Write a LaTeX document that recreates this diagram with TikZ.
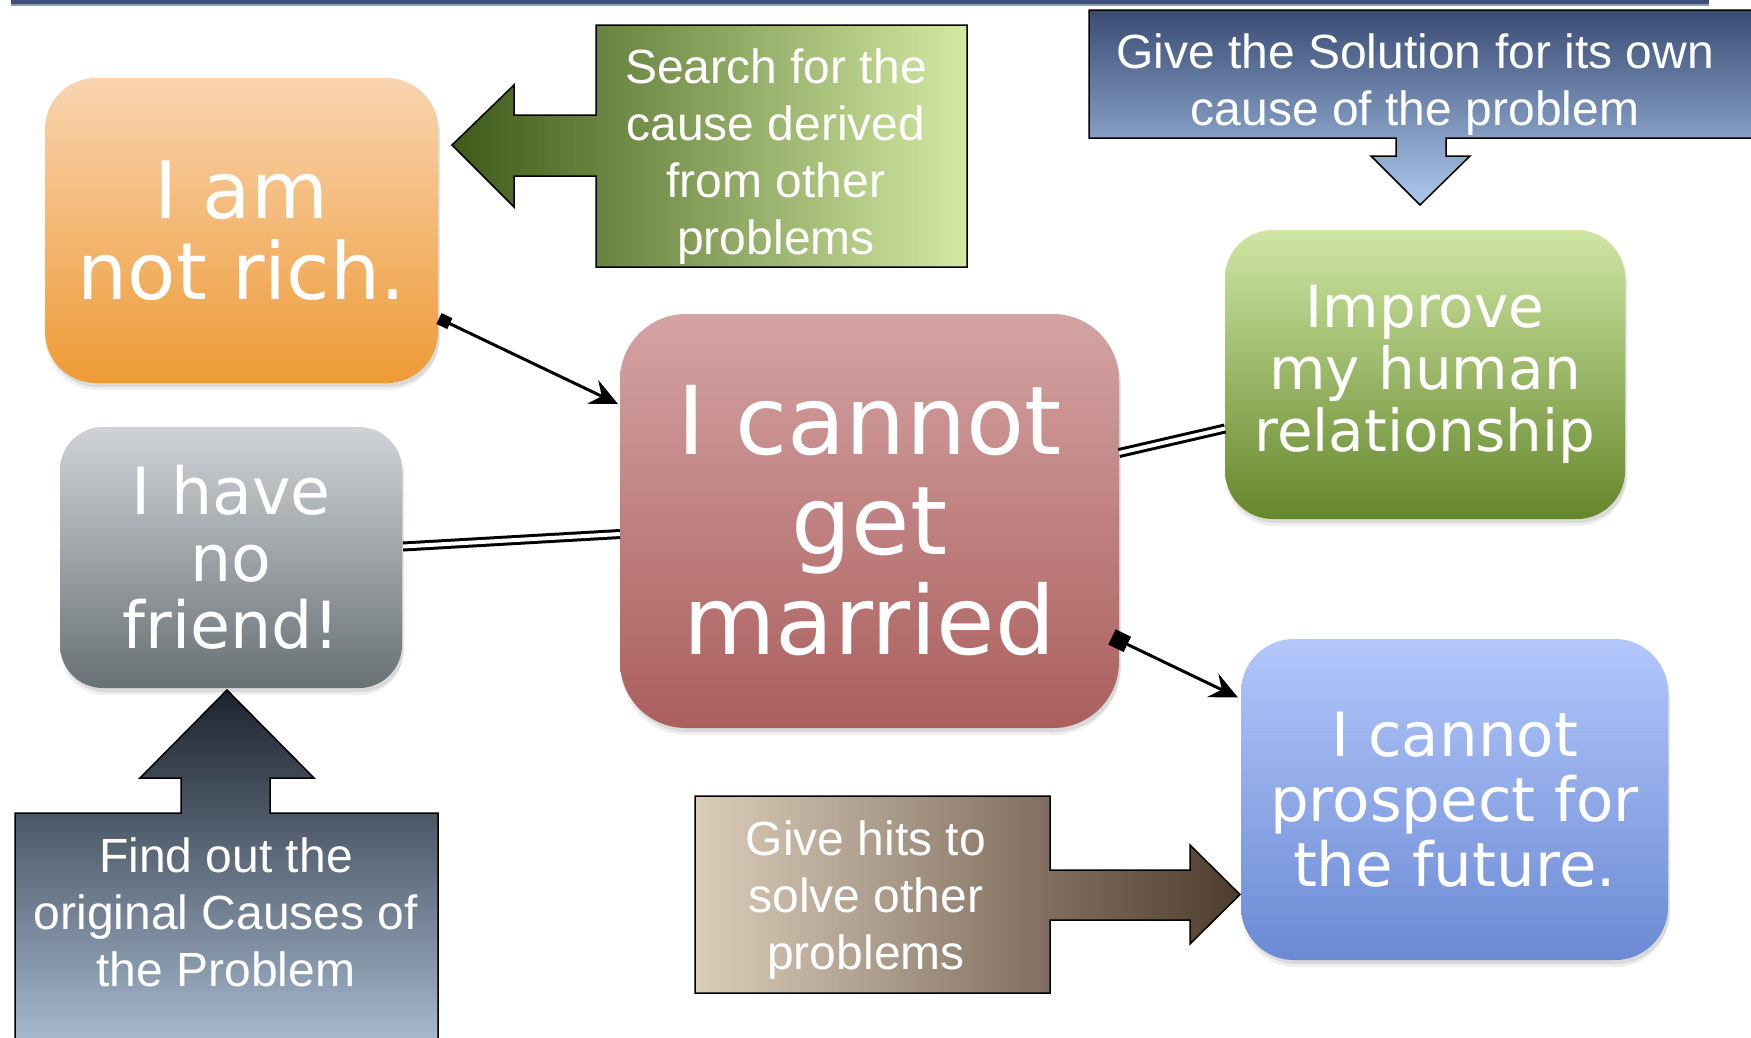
\documentclass[tikz,border=0pt]{standalone}
\usepackage{fontspec}
\setmainfont{DejaVu Sans}
\newfontfamily\calloutfont{Liberation Sans}
\usetikzlibrary{arrows.meta,shadows,calc}
\definecolor{orTop}{HTML}{F8D4B0}
\definecolor{orBot}{HTML}{EE9B36}
\definecolor{grTop}{HTML}{D0D3D6}
\definecolor{grBot}{HTML}{697175}
\definecolor{rdTop}{HTML}{D4A3A3}
\definecolor{rdMid}{HTML}{B36D6B}
\definecolor{rdBot}{HTML}{AA5F5D}
\definecolor{gnTop}{HTML}{CFE6A4}
\definecolor{gnBot}{HTML}{65872B}
\definecolor{blTop}{HTML}{B3C7FB}
\definecolor{blBot}{HTML}{6B8AD4}
\definecolor{c1L}{HTML}{3E5A18}
\definecolor{c1R}{HTML}{D3EAA3}
\definecolor{c2T}{HTML}{3B4C74}
\definecolor{c2B}{HTML}{ACC9EC}
\definecolor{c3T}{HTML}{1B232D}
\definecolor{c3B}{HTML}{A9BCD2}
\definecolor{c4L}{HTML}{DCCDBB}
\definecolor{c4R}{HTML}{4E3C2C}
\definecolor{topline}{HTML}{3F5078}
\definecolor{toplineb}{HTML}{8D9AB8}
\begin{document}
\begin{tikzpicture}[x=1pt,y=-1pt,
  probbox/.style={rectangle, draw=none, inner sep=0pt, outer sep=0pt, align=center, text=white,
    drop shadow={opacity=0.12, shadow xshift=1pt, shadow yshift=-7pt},
    drop shadow={opacity=0.18, shadow xshift=2pt, shadow yshift=-4pt}},
  callout/.style={draw=black, line width=1.5pt, line join=miter},
  callouttext/.style={text=white, align=center, inner sep=0pt,
    font={\calloutfont\fontsize{48}{57}\selectfont}},
  conn/.style={draw=black, line width=3pt},
  dbl/.style={draw=black, line width=3pt, double=white, double distance=4pt}
]
\useasboundingbox (0,0) rectangle (1751,1037);
\fill[white] (0,0) rectangle (1751,1037);
% top rule
\fill[topline] (11,0) rectangle (1709,4);
\fill[toplineb] (11,4) rectangle (1709,5.5);

% problem boxes
\node[probbox, rounded corners=51pt, minimum width=393pt, minimum height=305pt,
  top color=orTop, bottom color=orBot, font=\fontsize{79}{81}\selectfont]
  (rich) at (241.5,230.5) {I am\\not rich.};
\node[probbox, rounded corners=43pt, minimum width=342pt, minimum height=261pt,
  top color=grTop, bottom color=grBot, font=\fontsize{65}{67}\selectfont]
  (friend) at (231,557.5) {I have\\no\\friend!};
\node[probbox, rounded corners=66pt, minimum width=499pt, minimum height=414pt,
  top color=rdTop, middle color=rdMid, bottom color=rdBot, font=\fontsize{95}{100}\selectfont]
  (married) at (869.5,521) {I cannot\\get\\married};
\node[probbox, rounded corners=48pt, minimum width=400pt, minimum height=289pt,
  top color=gnTop, bottom color=gnBot, font=\fontsize{58}{62}\selectfont]
  (improve) at (1425,374.5) {Improve\\my human\\relationship};
\node[probbox, rounded corners=53pt, minimum width=427pt, minimum height=321pt,
  top color=blTop, bottom color=blBot, font=\fontsize{61}{65}\selectfont]
  (future) at (1454.5,799.5) {I cannot\\prospect for\\the future.};

% callout arrows
\shade[callout, left color=c1L, right color=c1R]
  (596,25) -- (967,25) -- (967,267) -- (596,267) -- (596,176) -- (514,176) -- (514,207)
  -- (452,145) -- (514,85) -- (514,115) -- (596,115) -- cycle;
\node[callouttext] (searchtxt) at (776,157) {Search for the\\cause derived\\from other\\problems};

\shade[callout, top color=c2T, bottom color=c2B]
  (1089,10) -- (1765,10) -- (1765,138) -- (1446,138) -- (1446,156) -- (1470,156)
  -- (1420,205) -- (1371,156) -- (1396,156) -- (1396,138) -- (1089,138) -- cycle;
\node[callouttext] (solutiontxt) at (1415,85) {Give the Solution for its own\\cause of the problem};

\shade[callout, top color=c3T, bottom color=c3B]
  (15,1050) -- (15,813) -- (181,813) -- (181,778) -- (140,778) -- (227,690) -- (314,778)
  -- (270,778) -- (270,813) -- (438,813) -- (438,1050) -- cycle;
\node[callouttext] (findtxt) at (226,912) {Find out the\\original Causes of\\the Problem};

\shade[callout, left color=c4L, right color=c4R]
  (695,796) -- (1050,796) -- (1050,870) -- (1190,870) -- (1190,845) -- (1240,894.5)
  -- (1190,944) -- (1190,920) -- (1050,920) -- (1050,993) -- (695,993) -- cycle;
\node[callouttext] (hitstxt) at (866,900) {Give hits to\\solve other\\problems};

% connectors
\draw[conn, {Square[length=12pt,width=12pt]}-{Stealth[length=28pt,width=26pt,inset=10pt]}]
  ($(rich.east)+(1,88)$) -- ($(married.west)+(-2,-117)$);
\draw[conn, {Square[length=17pt,width=17pt]}-{Stealth[length=28pt,width=26pt,inset=10pt]}]
  ($(married.east)+(-7,116)$) -- ($(future.west)+(-3,-102)$);
\draw[dbl] ($(friend.east)+(1,-11)$) -- ($(married.west)+(0,13)$);
\draw[dbl] ($(married.east)+(0,-68)$) -- ($(improve.west)+(0,54)$);
\end{tikzpicture}
\end{document}
